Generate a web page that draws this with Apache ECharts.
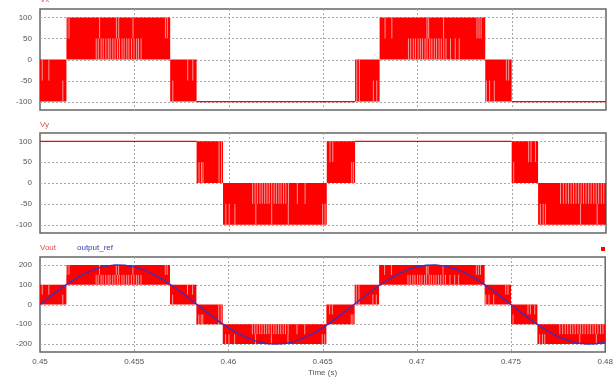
<!DOCTYPE html>
<html>
<head>
<meta charset="utf-8">
<script src="https://cdn.jsdelivr.net/npm/echarts@6.0.0/dist/echarts.min.js"></script>
<style>
  html, body { margin: 0; padding: 0; background: #ffffff; }
  #chart { width: 616px; height: 378px; }
</style>
</head>
<body>
<div id="chart"></div>
<script>
// Time axis (s) and tick labels
const timeTicks = [0.45, 0.455, 0.46, 0.465, 0.47, 0.475, 0.48];
const phaseTicks = [-100, -50, 0, 50, 100];
const outTicks = [-200, -100, 0, 100, 200];

// Switching bands: [tStart, tEnd, low level, high level]; equal levels = steady output
const vxBands = [
  [0.4500, 0.4514, -100, 0],
  [0.4514, 0.4569, 0, 100],
  [0.4569, 0.4583, -100, 0],
  [0.4583, 0.4667, -100, -100],
  [0.4667, 0.4680, -100, 0],
  [0.4680, 0.4736, 0, 100],
  [0.4736, 0.4750, -100, 0],
  [0.4750, 0.4800, -100, -100]
];
const vyBands = [
  [0.4500, 0.4583, 100, 100],
  [0.4583, 0.4597, 0, 100],
  [0.4597, 0.4652, -100, 0],
  [0.4652, 0.4667, 0, 100],
  [0.4667, 0.4750, 100, 100],
  [0.4750, 0.4764, 0, 100],
  [0.4764, 0.4800, -100, 0]
];
const voutBands = [
  [0.4500, 0.4514, 0, 100],
  [0.4514, 0.4569, 100, 200],
  [0.4569, 0.4583, 0, 100],
  [0.4583, 0.4597, -100, 0],
  [0.4597, 0.4652, -200, -100],
  [0.4652, 0.4667, -100, 0],
  [0.4667, 0.4680, 0, 100],
  [0.4680, 0.4736, 100, 200],
  [0.4736, 0.4750, 0, 100],
  [0.4750, 0.4764, -100, 0],
  [0.4764, 0.4800, -200, -100]
];

// Wider pulse gaps visible inside the bands
const gapsRiseA = [0.45298, 0.45309, 0.45324, 0.45335, 0.45349, 0.45362, 0.45372, 0.45386, 0.45398, 0.45411,
                   0.45421, 0.45435, 0.45446, 0.4546, 0.45471, 0.45485, 0.45498, 0.45512, 0.45522, 0.45536];
const gapsRiseB = [0.46953, 0.46965, 0.46979, 0.4699, 0.47004, 0.47016, 0.47027, 0.47041, 0.47052, 0.47066,
                   0.47077, 0.4709, 0.47102, 0.47115, 0.47127, 0.4714, 0.47152, 0.47176, 0.47201, 0.47222];
const gapsFallA = [0.46127, 0.4614, 0.46152, 0.46166, 0.46178, 0.46191, 0.46203, 0.46215, 0.46228, 0.46241,
                   0.46253, 0.46266, 0.46278, 0.46291, 0.46303, 0.46317, 0.46364, 0.46405];
const gapsFallB = [0.47759, 0.47774, 0.47788, 0.47801, 0.47815, 0.47828, 0.47841, 0.47855, 0.47868, 0.47881,
                   0.47894, 0.47908, 0.47921, 0.47935, 0.47948, 0.47961, 0.47975, 0.47988];
const gapsPeakA = [0.45142, 0.45154, 0.45316, 0.45405, 0.45417, 0.45493, 0.45665, 0.45675];
const gapsPeakB = [0.46829, 0.46865, 0.47051, 0.4706, 0.47139, 0.47316, 0.47327, 0.47338];
const gapsTroughA = [0.45985, 0.46003, 0.46033, 0.46144, 0.46228, 0.46316, 0.46498, 0.46511];
const gapsTroughB = [0.47652, 0.47667, 0.47679, 0.47865, 0.47953];

// Gap groups: [low, high, times]
const vxGaps = [
  [-50, 0, [0.45012, 0.45047]],
  [-100, -50, [0.45121]],
  [50, 100, gapsPeakA],
  [0, 50, gapsRiseA],
  [-100, -50, [0.45704]],
  [-50, 0, [0.45783, 0.4581]],
  [-100, 0, [0.46679, 0.46693]],
  [-100, -50, [0.46767, 0.46785]],
  [50, 100, gapsPeakB],
  [0, 50, gapsRiseB],
  [-100, -50, [0.47366, 0.47383, 0.47408]],
  [-50, 0, [0.47472, 0.47484]]
];
const vyGaps = [
  [0, 50, [0.45843, 0.45856, 0.45864]],
  [0, 100, [0.45949, 0.45962]],
  [-50, 0, gapsFallA],
  [-100, -50, gapsTroughA],
  [50, 100, [0.46537, 0.46552]],
  [0, 50, [0.46652, 0.46661]],
  [0, 50, [0.47511]],
  [50, 100, [0.4759, 0.47603, 0.47626]],
  [-50, 0, gapsFallB],
  [-100, -50, gapsTroughB]
];
const voutGaps = [
  [50, 100, [0.45012, 0.45047]],
  [0, 50, [0.45121]],
  [150, 200, gapsPeakA],
  [100, 150, gapsRiseA],
  [0, 50, [0.45704]],
  [50, 100, [0.45783, 0.4581]],
  [-100, -50, [0.45843, 0.45856, 0.45864]],
  [-100, 0, [0.45949, 0.45962]],
  [-150, -100, gapsFallA],
  [-200, -150, gapsTroughA],
  [-50, 0, [0.46537, 0.46552]],
  [-100, -50, [0.46652, 0.46661]],
  [0, 100, [0.46679, 0.46693]],
  [0, 50, [0.46767, 0.46785]],
  [150, 200, gapsPeakB],
  [100, 150, gapsRiseB],
  [0, 50, [0.47366, 0.47383, 0.47408]],
  [50, 100, [0.47472, 0.47484]],
  [-100, -50, [0.47511]],
  [-50, 0, [0.4759, 0.47603, 0.47626]],
  [-150, -100, gapsFallB],
  [-200, -150, gapsTroughB]
];

// Reference waveform, sampled every 0.5 ms from 0.45 s
const refTimes = [];
for (let i = 0; i <= 60; i++) refTimes.push(+(0.45 + i * 0.0005).toFixed(4));
const refValues = [0, 37, 74, 107, 137, 162, 181, 194, 200, 198, 190, 175, 154, 127, 96, 62, 25, -13, -50, -85,
  -118, -146, -169, -186, -197, -200, -197, -186, -169, -146, -118, -85, -50, -13, 25, 62, 96, 127, 154, 175,
  190, 198, 200, 194, 181, 162, 137, 107, 74, 37, 0, -37, -74, -107, -137, -162, -181, -194, -200, -198, -190];

const RED = '#ff0000';
const GAP = 'rgba(244,176,176,0.95)';
const FONT = '"Liberation Sans", Arial, sans-serif';

function flattenGaps(groups) {
  const out = [];
  groups.forEach(([lo, hi, times]) => times.forEach(t => out.push([t, lo, hi])));
  return out;
}

function renderBand(params, api) {
  const t0 = api.value(0), t1 = api.value(1), lo = api.value(2), hi = api.value(3);
  const p0 = api.coord([t0, hi]);
  const p1 = api.coord([t1, lo]);
  if (lo === hi) {
    return { type: 'line', shape: { x1: p0[0], y1: p0[1], x2: p1[0], y2: p1[1] },
      style: { stroke: RED, lineWidth: 1.2 } };
  }
  return { type: 'rect', shape: { x: p0[0], y: p0[1], width: p1[0] - p0[0], height: p1[1] - p0[1] },
    style: { fill: RED } };
}

function renderGap(params, api) {
  const a = api.coord([api.value(0), api.value(1)]);
  const b = api.coord([api.value(0), api.value(2)]);
  return { type: 'line', shape: { x1: a[0], y1: a[1], x2: b[0], y2: b[1] },
    style: { stroke: GAP, lineWidth: 0.9 } };
}

function renderGridLine(params, api) {
  const cs = params.coordSys;
  const kind = api.value(0), v = api.value(1);
  let shape;
  if (kind === 0) {
    const y = Math.round(api.coord([0.45, v])[1]) + 0.5;
    shape = { x1: cs.x, y1: y, x2: cs.x + cs.width, y2: y };
  } else {
    const x = Math.round(api.coord([v, 0])[0]) + 0.5;
    shape = { x1: x, y1: cs.y, x2: x, y2: cs.y + cs.height };
  }
  return { type: 'line', shape, style: { stroke: '#a8a8a8', lineWidth: 1, lineDash: [2, 2] } };
}

function gridLineData(yTicks) {
  const d = [];
  yTicks.forEach(v => d.push([0, v]));
  timeTicks.slice(1, -1).forEach(t => d.push([1, t]));
  return d;
}

const grids = [
  { left: 40, right: 10, top: 9, height: 101 },
  { left: 40, right: 10, top: 133, height: 100 },
  { left: 40, right: 10, top: 257, height: 96 }
].map(g => Object.assign(g, { show: true, borderColor: '#666', borderWidth: 1.5, containLabel: false }));

function xAxisFor(i, showLabels) {
  return {
    type: 'value', gridIndex: i, min: 0.45, max: 0.48, interval: 0.005,
    axisLine: { show: false }, axisTick: { show: false }, splitLine: { show: false },
    axisLabel: { show: showLabels, color: '#555', fontSize: 8, fontFamily: FONT, margin: 6 },
    name: showLabels ? 'Time (s)' : '', nameLocation: 'middle', nameGap: 17,
    nameTextStyle: { color: '#555', fontSize: 8, fontFamily: FONT }
  };
}

function yAxisFor(i, min, max, step, ticks) {
  return {
    type: 'value', gridIndex: i, min, max, interval: step,
    axisLine: { show: false }, axisTick: { show: false }, splitLine: { show: false },
    axisLabel: { color: '#555', fontSize: 8, fontFamily: FONT, margin: 8,
      formatter: v => (ticks.includes(v) ? String(v) : '') }
  };
}

function panelSeries(i, bands, gaps, yTicks) {
  return [
    { type: 'custom', xAxisIndex: i, yAxisIndex: i, z: 1, silent: true,
      renderItem: renderGridLine, data: gridLineData(yTicks) },
    { type: 'custom', xAxisIndex: i, yAxisIndex: i, z: 2, silent: true,
      renderItem: renderBand, data: bands },
    { type: 'custom', xAxisIndex: i, yAxisIndex: i, z: 3, silent: true,
      renderItem: renderGap, data: flattenGaps(gaps) }
  ];
}

const chart = echarts.init(document.getElementById('chart'), null, { renderer: 'canvas' });
chart.setOption({
  animation: false,
  backgroundColor: '#ffffff',
  grid: grids,
  xAxis: [xAxisFor(0, false), xAxisFor(1, false), xAxisFor(2, true)],
  yAxis: [
    yAxisFor(0, -120, 120, 10, phaseTicks),
    yAxisFor(1, -120, 120, 10, phaseTicks),
    yAxisFor(2, -240, 240, 20, outTicks)
  ],
  series: [
    ...panelSeries(0, vxBands, vxGaps, phaseTicks),
    ...panelSeries(1, vyBands, vyGaps, phaseTicks),
    ...panelSeries(2, voutBands, voutGaps, outTicks),
    { type: 'line', name: 'output_ref', xAxisIndex: 2, yAxisIndex: 2, z: 4,
      showSymbol: false, smooth: false, silent: true,
      lineStyle: { color: '#3f2fb8', width: 1.4 },
      data: refTimes.map((t, k) => [t, refValues[k]]) }
  ],
  graphic: [
    { type: 'text', left: 40, top: -4, style: { text: 'Vx', fill: '#e05050', font: '8px ' + FONT } },
    { type: 'text', left: 40, top: 121, style: { text: 'Vy', fill: '#e05050', font: '8px ' + FONT } },
    { type: 'text', left: 40, top: 244, style: { text: 'Vout', fill: '#e05050', font: '8px ' + FONT } },
    { type: 'text', left: 77, top: 244, style: { text: 'output_ref', fill: '#3b3ba8', font: '8px ' + FONT } },
    { type: 'rect', shape: { x: 601, y: 247, width: 4, height: 4 }, style: { fill: RED } }
  ]
});
</script>
</body>
</html>
